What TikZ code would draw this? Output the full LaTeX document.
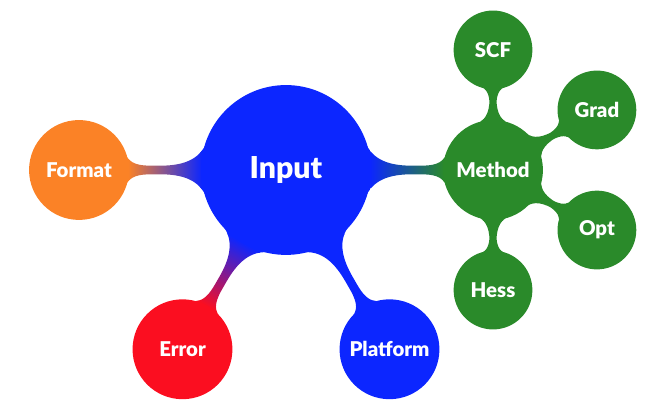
\documentclass[tikz,border=0pt]{standalone}
\usepackage{fontspec}
\setmainfont{Lato}[BoldFont={Lato Black}]
\usepackage{tikz}
\usetikzlibrary{mindmap,shapes}
\definecolor{inputblue}{RGB}{12,38,255}
\definecolor{formatorange}{RGB}{251,130,38}
\definecolor{methodgreen}{RGB}{42,138,42}
\definecolor{errorred}{RGB}{251,14,32}
\tikzstyle{topic}=[concept,circle,text=white,align=center,inner sep=0pt]
\tikzstyle{root topic}=[topic,concept color=inputblue,minimum size=4.06cm,text width=3.4cm,font=\huge\bfseries]
\tikzstyle{main topic}=[topic,minimum size=2.37cm,text width=2cm,font=\fontsize{14}{16}\selectfont\bfseries]
\tikzstyle{sub topic}=[topic,concept color=methodgreen,minimum size=1.86cm,text width=1.5cm,font=\fontsize{14}{16}\selectfont\bfseries]
\pgfdeclarelayer{background}
\pgfsetlayers{background,main}
\begin{document}
\begin{tikzpicture}[mindmap]

\useasboundingbox (-6.908,-5.894) rectangle (8.792,4.106);

% First we draw the concepts
\node[root topic] (input) at (0,0) {Input};

\foreach \pos/\name/\col/\text in {{(-5,0)/format/formatorange/Format},
{(5,0)/method/methodgreen/Method},
{(-2.5,-4.33)/error/errorred/Error},
{(2.5,-4.33)/platform/inputblue/Platform}}
\node[main topic,concept color=\col] (\name) at \pos {\text};

\foreach \pos/\name in {{(5,2.9)/SCF},
{(7.51,1.45)/Grad},
{(7.51,-1.45)/Opt},
{(5,-2.9)/Hess}}
\node[sub topic] (\name) at \pos {\name};

% Connect concepts with bars
\begin{pgfonlayer}{background}
\foreach \source/\dest/\cola/\colb in {input/format/inputblue/formatorange,
input/method/inputblue/methodgreen,
input/error/inputblue/errorred,
input/platform/inputblue/inputblue,
method/SCF/methodgreen/methodgreen,
method/Grad/methodgreen/methodgreen,
method/Opt/methodgreen/methodgreen,
method/Hess/methodgreen/methodgreen}
\path (\source) to[circle connection bar switch color=from (\cola) to (\colb)] (\dest);
\end{pgfonlayer}

\end{tikzpicture}
\end{document}
